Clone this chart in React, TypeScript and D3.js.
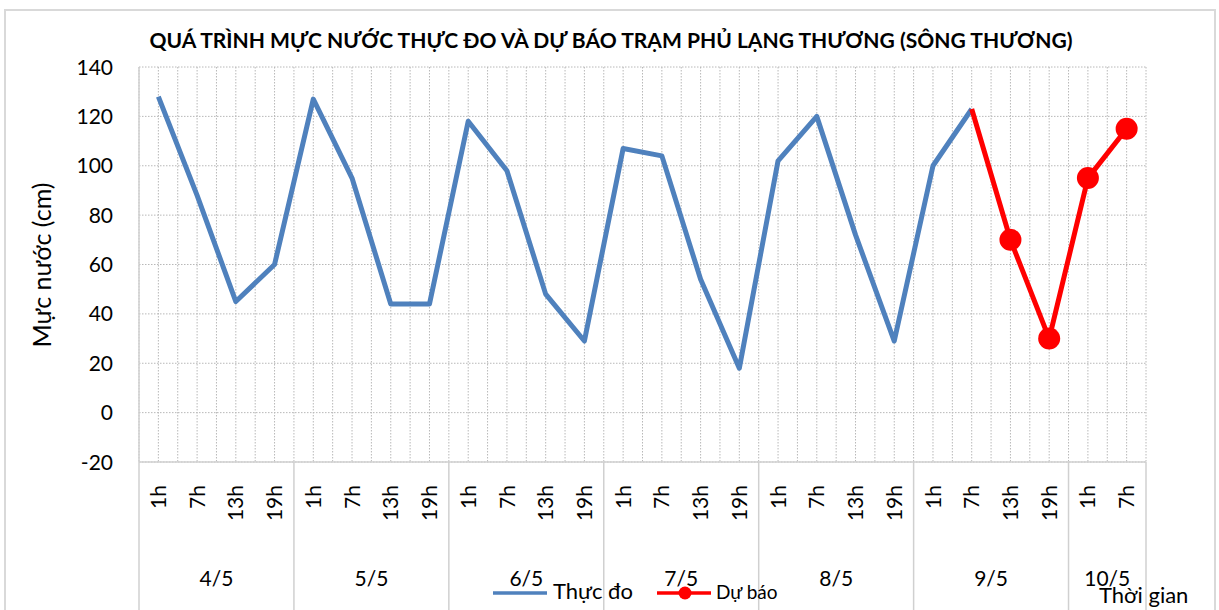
import React from "react";
import * as d3 from "d3";

const hourLabels = [
  "1h", "7h", "13h", "19h",
  "1h", "7h", "13h", "19h",
  "1h", "7h", "13h", "19h",
  "1h", "7h", "13h", "19h",
  "1h", "7h", "13h", "19h",
  "1h", "7h", "13h", "19h",
  "1h", "7h",
];
const dayLabels = ["4/5", "5/5", "6/5", "7/5", "8/5", "9/5", "10/5"];
const daySpans = [4, 4, 4, 4, 4, 4, 2];

const observed: (number | null)[] = [
  128, 88, 45, 60,
  127, 95, 44, 44,
  118, 98, 48, 29,
  107, 104, 54, 18,
  102, 120, 72, 29,
  100, 123, null, null,
  null, null,
];
const forecast: (number | null)[] = [
  null, null, null, null,
  null, null, null, null,
  null, null, null, null,
  null, null, null, null,
  null, null, null, null,
  null, 123, 70, 30,
  95, 115,
];
const forecastMarkerFrom = 22;
const yTicks = [-20, 0, 20, 40, 60, 80, 100, 120, 140];

const TITLE =
  "QUÁ TRÌNH MỰC NƯỚC THỰC ĐO VÀ DỰ BÁO TRẠM PHỦ LẠNG THƯƠNG (SÔNG THƯƠNG)";

const W = 1219;
const H = 610;
const left = 139;
const right = 1146;
const top = 67;
const bottom = 462;
const FONT = "Lato, 'Open Sans', sans-serif";
const BLUE = "#4F81BD";
const RED = "#FF0000";
const GRID = "#b8b8b8";
const AXIS = "#d0d0d0";

export default function App() {
  const idx = hourLabels.map((_, i) => String(i));
  const x = d3.scaleBand<string>().domain(idx).range([left, right]).padding(0);
  const y = d3.scaleLinear().domain([-20, 140]).range([bottom, top]);
  const bw = x.bandwidth();
  const cx = (i: number) => (x(String(i)) as number) + bw / 2;

  const lineGen = d3
    .line<number | null>()
    .defined((d) => d !== null)
    .x((_, i) => cx(i))
    .y((d) => y(d as number));

  const vGrid: number[] = [];
  for (let i = 0; i <= hourLabels.length * 2; i++) {
    vGrid.push(left + (i * bw) / 2);
  }

  const groupEdges: number[] = [left];
  let acc = 0;
  const groupCenters: number[] = [];
  daySpans.forEach((s) => {
    const start = left + acc * bw;
    acc += s;
    const end = left + acc * bw;
    groupEdges.push(end);
    groupCenters.push((start + end) / 2);
  });

  return (
    <svg
      width={W}
      height={H}
      style={{ position: "absolute", left: 0, top: 0, background: "#fff" }}
      fontFamily={FONT}
    >
      <rect x={0} y={0} width={W} height={H} fill="#fff" />
      <rect
        x={5}
        y={10}
        width={1210}
        height={700}
        fill="#fff"
        stroke="#d9d9d9"
        strokeWidth={2}
      />

      <text
        x={611}
        y={48}
        textAnchor="middle"
        fontWeight="bold"
        fontSize={21}
        textLength={923}
        lengthAdjust="spacingAndGlyphs"
        fill="#000"
      >
        {TITLE}
      </text>

      {vGrid.map((gx, i) => (
        <line
          key={"v" + i}
          x1={gx}
          x2={gx}
          y1={top}
          y2={bottom}
          stroke={GRID}
          strokeWidth={1}
          strokeDasharray="1.5,1.5"
        />
      ))}
      {yTicks.map((t) => (
        <line
          key={"h" + t}
          x1={left}
          x2={right}
          y1={y(t)}
          y2={y(t)}
          stroke={GRID}
          strokeWidth={1}
          strokeDasharray="1.5,1.5"
        />
      ))}

      <line x1={left} x2={left} y1={top} y2={bottom} stroke={AXIS} strokeWidth={1.5} />
      <line x1={left} x2={right} y1={bottom} y2={bottom} stroke={AXIS} strokeWidth={1.5} />
      {groupEdges.map((gx, i) => (
        <line
          key={"g" + i}
          x1={gx}
          x2={gx}
          y1={bottom}
          y2={H}
          stroke={AXIS}
          strokeWidth={1.5}
        />
      ))}

      {yTicks.map((t) => (
        <text
          key={"yt" + t}
          x={113}
          y={y(t)}
          dy="0.36em"
          textAnchor="end"
          fontSize={21}
          fill="#000"
        >
          {t}
        </text>
      ))}

      <text
        transform={`translate(42,265) rotate(-90)`}
        textAnchor="middle"
        dy="0.36em"
        fontSize={25}
        fill="#000"
      >
        Mực nước (cm)
      </text>

      {hourLabels.map((h, i) => (
        <text
          key={"hl" + i}
          transform={`translate(${cx(i)},485) rotate(-90)`}
          textAnchor="end"
          dy="0.36em"
          fontSize={21}
          fill="#000"
        >
          {h}
        </text>
      ))}

      {dayLabels.map((d, i) => (
        <text
          key={"dl" + i}
          x={groupCenters[i]}
          y={586}
          textAnchor="middle"
          fontSize={21}
          fill="#000"
        >
          {d}
        </text>
      ))}

      <path
        d={lineGen(observed) || ""}
        fill="none"
        stroke={BLUE}
        strokeWidth={5}
        strokeLinejoin="round"
      />
      <path
        d={lineGen(forecast) || ""}
        fill="none"
        stroke={RED}
        strokeWidth={5}
        strokeLinejoin="round"
      />
      {forecast.map((v, i) =>
        v !== null && i >= forecastMarkerFrom ? (
          <circle key={"m" + i} cx={cx(i)} cy={y(v)} r={11} fill={RED} />
        ) : null
      )}

      <line x1={493} x2={547} y1={593} y2={593} stroke={BLUE} strokeWidth={3.5} />
      <text x={553} y={599} fontSize={22} fill="#000">
        Thực đo
      </text>
      <line x1={657} x2={711} y1={593} y2={593} stroke={RED} strokeWidth={3.5} />
      <circle cx={685} cy={593} r={6.5} fill={RED} />
      <text x={716} y={599} fontSize={19} fill="#000">
        Dự báo
      </text>

      <text x={1099} y={603} fontSize={22} fill="#000">
        Thời gian
      </text>
    </svg>
  );
}
